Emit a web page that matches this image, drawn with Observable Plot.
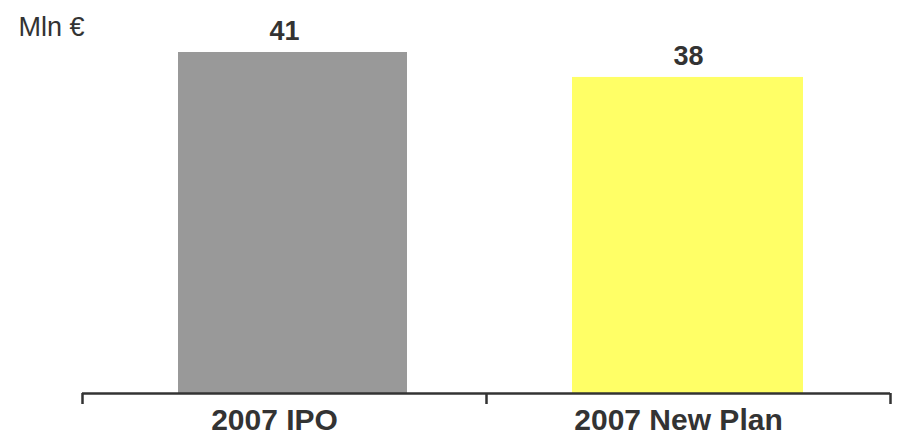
<!DOCTYPE html>
<html>
<head>
<meta charset="utf-8">
<script src="https://cdn.jsdelivr.net/npm/d3@7"></script>
<script src="https://cdn.jsdelivr.net/npm/@observablehq/plot@0.6"></script>
<style>
  html, body { margin: 0; padding: 0; background: #fff; }
  svg { display: block; }
</style>
</head>
<body>
<div id="chart"></div>
<script>
const categories = ["2007 IPO", "2007 New Plan"];
const values = [41, 38];
const colors = ["#999999", "#ffff66"];
const unitLabel = "Mln €";
const tickValues = [-0.5, 0.5, 1.5];

const data = categories.map((c, i) => ({ i, category: c, value: values[i], color: colors[i] }));

const chart = Plot.plot({
  width: 901,
  height: 438,
  marginLeft: 82,
  marginRight: 11,
  marginTop: 52,
  marginBottom: 45,
  style: { fontFamily: "'Liberation Sans', Arial, sans-serif", background: "#fff" },
  x: { type: "linear", domain: [-0.5, 1.5], label: null },
  y: { domain: [0, 41], axis: null, label: null },
  marks: [
    Plot.rectY(data.filter(d => d.i === 0), {
      x1: d => d.i - 0.5, x2: d => d.i + 0.5, y: "value",
      fill: d => d.color, insetLeft: 96, insetRight: 79
    }),
    Plot.rectY(data.filter(d => d.i === 1), {
      x1: d => d.i - 0.5, x2: d => d.i + 0.5, y: "value",
      fill: d => d.color, insetLeft: 86, insetRight: 87
    }),
    Plot.ruleY([0], { stroke: "#333", strokeWidth: 2.5 }),
    Plot.axisX({ ticks: tickValues, tickSize: 11, tickFormat: () => "", label: null, stroke: "#333", strokeWidth: 2.5 }),
    Plot.text(data, {
      x: "i", text: d => d.category, frameAnchor: "bottom", dy: 27, dx: -10,
      fontSize: 30, fontWeight: "bold", fill: "#333", lineAnchor: "middle"
    }),
    Plot.text(data, {
      x: "i", y: "value", text: d => String(d.value), dy: -21,
      fontSize: 27, fontWeight: "bold", fill: "#333", lineAnchor: "middle"
    }),
    Plot.text([unitLabel], {
      frameAnchor: "top-left", text: d => d, dx: -64, dy: -25,
      textAnchor: "start", lineAnchor: "middle", fontSize: 27, fill: "#333"
    })
  ]
});
document.getElementById("chart").appendChild(chart);
</script>
</body>
</html>
